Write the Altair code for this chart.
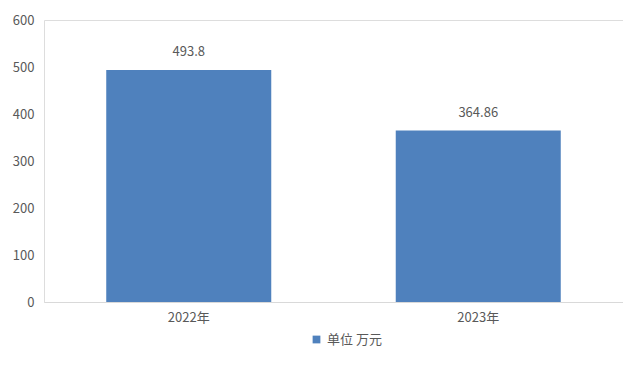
import altair as alt
import pandas as pd

years = ["2022年", "2023年"]
values = [493.8, 364.86]
labels = ["493.8", "364.86"]
series = ["单位 万元", "单位 万元"]

df = pd.DataFrame({"year": years, "value": values, "label": labels, "series": series})

FONT = "Noto Sans CJK SC"
GRAY = "#595959"

base = alt.Chart(df)

bars = base.mark_bar(color="#4F81BD").encode(
    x=alt.X("year:N", sort=years,
            scale=alt.Scale(paddingInner=0.43, paddingOuter=0.215),
            axis=alt.Axis(title=None, labelAngle=0, ticks=False, domainColor="#D9D9D9",
                          labelColor=GRAY, labelFont=FONT, labelFontSize=13, labelPadding=9)),
    y=alt.Y("value:Q", scale=alt.Scale(domain=[0, 600]),
            axis=alt.Axis(title=None, values=[0, 100, 200, 300, 400, 500, 600], grid=False,
                          ticks=False, domain=False, labelColor=GRAY, labelFont=FONT,
                          labelFontSize=13, labelPadding=10)),
    fill=alt.Fill("series:N", scale=alt.Scale(range=["#4F81BD"]),
                  legend=alt.Legend(title=None, orient="none", legendX=266, legendY=313,
                                    symbolType="square", symbolSize=60, symbolStrokeWidth=0,
                                    labelFont=FONT, labelFontSize=13, labelColor=GRAY)),
)

text = base.mark_text(baseline="bottom", dy=-11, font=FONT, fontSize=13, color=GRAY).encode(
    x=alt.X("year:N", sort=years),
    y=alt.Y("value:Q"),
    text="label:N",
)

chart = (bars + text).properties(
    width=579, height=282,
    autosize=alt.AutoSizeParams(type="none"),
    padding={"left": 36, "top": 12, "right": 0, "bottom": 60},
).configure_view(strokeWidth=0).configure_axisY(
    domain=False, grid=False
).configure_axisX(grid=False).configure(background="white")

chart.save("out.html", embed_options={"renderer": "svg", "actions": False})
